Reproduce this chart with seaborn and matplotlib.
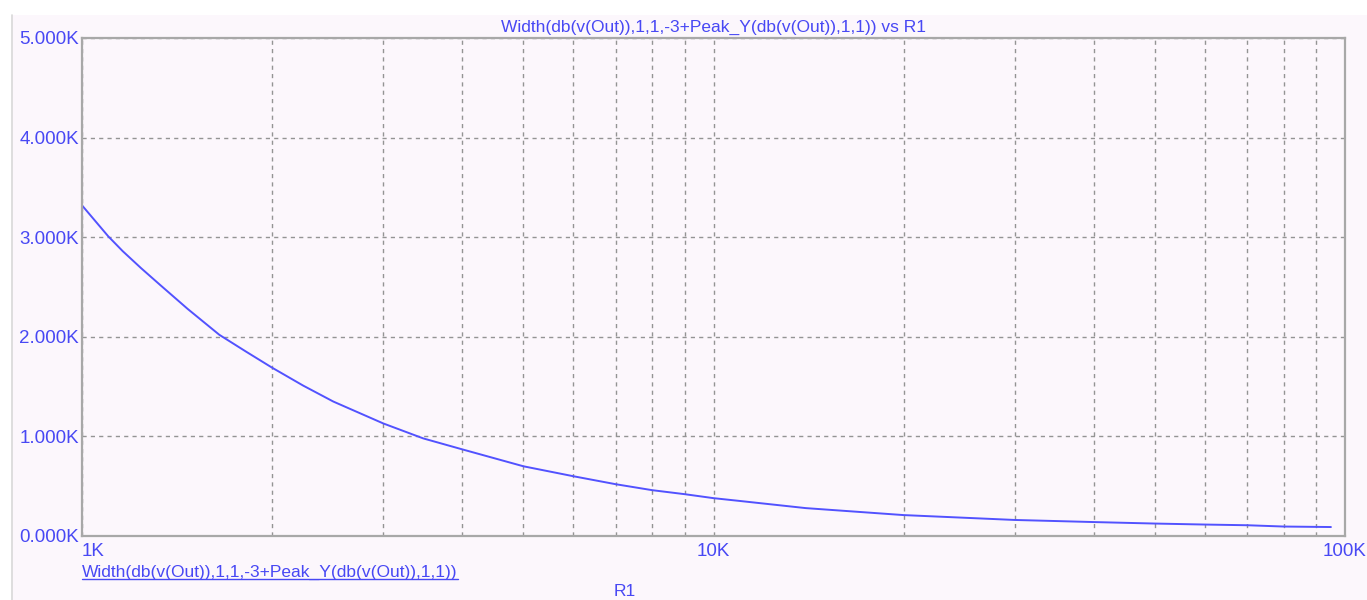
import numpy as np
import pandas as pd
import matplotlib
matplotlib.use("Agg")
import matplotlib.pyplot as plt
from matplotlib.patches import Rectangle
from matplotlib.lines import Line2D
from matplotlib.ticker import FixedLocator, NullFormatter, NullLocator
import seaborn as sns

# Sweep of R1 (kOhm) and the -3 dB bandwidth measurement (kHz)
r1_k = [1.0, 1.1, 1.16, 1.24, 1.33, 1.47, 1.65, 1.82, 2.0, 2.24, 2.5, 3.0,
        3.47, 4.0, 5.0, 6.0, 7.0, 8.0, 9.0, 10.0, 11.0, 14.0, 20.0, 30.0,
        34.0, 40.0, 50.0, 60.0, 70.0, 80.0, 95.0]
width_k = [3.32, 3.01, 2.86, 2.69, 2.52, 2.28, 2.02, 1.85, 1.69, 1.51, 1.35,
           1.13, 0.98, 0.87, 0.70, 0.60, 0.52, 0.46, 0.42, 0.38, 0.352, 0.28,
           0.21, 0.161, 0.152, 0.14, 0.125, 0.115, 0.108, 0.095, 0.09]

y_ticks = [0, 1000, 2000, 3000, 4000, 5000]
y_tick_labels = ["0.000K", "1.000K", "2.000K", "3.000K", "4.000K", "5.000K"]
x_ticks = [1e3, 1e4, 1e5]
x_tick_labels = ["1K", "10K", "100K"]

title = "Width(db(v(Out)),1,1,-3+Peak_Y(db(v(Out)),1,1)) vs R1"
trace_name = "Width(db(v(Out)),1,1,-3+Peak_Y(db(v(Out)),1,1))"
x_name = "R1"

df = pd.DataFrame({"R1": np.array(r1_k) * 1e3, "Width": np.array(width_k) * 1e3})

sns.set_style("white")
plt.rcParams["font.family"] = ["Liberation Sans", "DejaVu Sans"]

W, H = 1367, 600
fig = plt.figure(figsize=(W / 100, H / 100), dpi=100, facecolor="white")

panel_bg = "#fcf7fc"
txt_blue = "#4848f4"
grid_col = "#949494"

# Window panel behind the plot
fig.patches.append(Rectangle((12 / W, 0), 1 - 12 / W, (H - 15) / H,
                             transform=fig.transFigure, facecolor=panel_bg,
                             edgecolor="none", zorder=-5))
fig.lines.append(Line2D([12 / W, 12 / W], [0, (H - 15) / H],
                        transform=fig.transFigure, color="#d8d8d8", lw=1.2,
                        zorder=-4))

left, right, top, bottom = 82, 1345, 38, 536
ax = fig.add_axes([left / W, (H - bottom) / H, (right - left) / W, (bottom - top) / H])
ax.set_zorder(2)
ax.set_facecolor(panel_bg)

sns.lineplot(data=df, x="R1", y="Width", ax=ax, color="#5252ff", lw=1.4)

ax.set_xscale("log")
ax.set_xlim(1e3, 1e5)
ax.set_ylim(0, 5000)

minor = [m * 10 ** d for d in (3, 4) for m in range(2, 10)]
ax.xaxis.set_major_locator(FixedLocator(x_ticks))
ax.xaxis.set_minor_locator(FixedLocator(minor))
ax.xaxis.set_minor_formatter(NullFormatter())
ax.set_xticklabels(x_tick_labels)
ax.set_yticks(y_ticks)
ax.set_yticklabels(y_tick_labels)
ax.yaxis.set_minor_locator(NullLocator())

ax.tick_params(axis="both", which="both", length=0, colors=txt_blue, labelsize=13.5)
ax.tick_params(axis="y", pad=2)
ax.tick_params(axis="x", pad=5)
xl = ax.get_xticklabels()
xl[0].set_ha("left")
xl[-1].set_ha("center")

grid_kw = dict(color=grid_col, lw=1.0, linestyle=(0, (3, 3)))
ax.grid(True, axis="x", which="both", **grid_kw)
ax.grid(True, axis="y", which="major", **grid_kw)
ax.set_axisbelow(True)

for s in ax.spines.values():
    s.set_visible(True)
    s.set_color("#a8a8a8")
    s.set_linewidth(1.6)

ax.set_xlabel("")
ax.set_ylabel("")

fig.text((left + right) / 2 / W, 1 - 27 / H, title, ha="center", va="center",
         color=txt_blue, fontsize=12.5)

# Trace legend (underlined) and sweep variable name
leg = fig.text(left / W, 1 - 572 / H, trace_name, ha="left", va="center",
               color=txt_blue, fontsize=12.5)
fig.canvas.draw()
bb = leg.get_window_extent().transformed(fig.transFigure.inverted())
fig.lines.append(Line2D([bb.x0, bb.x1], [bb.y0 + 0.001, bb.y0 + 0.001],
                        transform=fig.transFigure, color=txt_blue, lw=1.0))
fig.text(625 / W, 1 - 592 / H, x_name, ha="center", va="center",
         color=txt_blue, fontsize=12.5)

fig.savefig("out.png", dpi=100, facecolor=fig.get_facecolor())
